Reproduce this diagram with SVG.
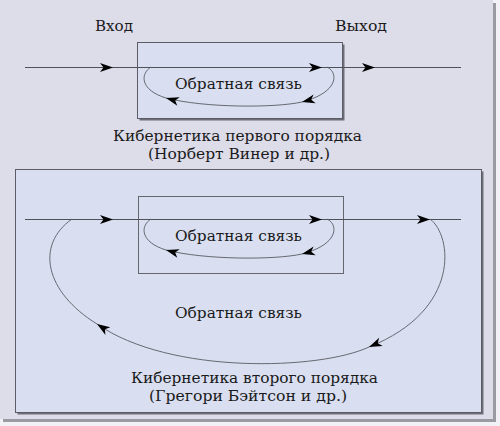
<svg xmlns="http://www.w3.org/2000/svg" width="500" height="426" viewBox="0 0 500 426">
<defs>
<marker id="arr" viewBox="0 0 13 9" refX="13" refY="4.5" markerWidth="13" markerHeight="9" markerUnits="userSpaceOnUse" orient="auto" overflow="visible">
<path d="M0,0 L13,4.5 L0,9 L3.5,4.5 Z" fill="#000"/>
</marker>
</defs>
<style>
.t{font-family:"DejaVu Serif Condensed","DejaVu Serif","Liberation Serif",serif;font-size:15.5px;fill:#1a1a1a;text-anchor:middle}
.ln{stroke:#505058;stroke-width:1;fill:none}
.lp{stroke:#5a5a62;stroke-width:0.9;fill:none}
.box{fill:#d9dff1;stroke:#5c5c66;stroke-width:1}
.sh{fill:#6e6e78}
</style>
<rect x="0" y="0" width="500" height="426" fill="#f2f2f6"/>
<rect x="3" y="3" width="493" height="419" fill="#9a9aa2"/>
<rect x="0" y="0" width="493" height="419" fill="#dddce9"/>

<g id="box1">
<rect class="sh" x="139.5" y="44.5" width="205" height="76"/>
<rect class="box" x="137.5" y="42.5" width="205" height="76"/>
</g>
<g id="box2">
<rect class="sh" x="17.5" y="171.5" width="466" height="243"/>
<rect class="box" x="15.5" y="169.5" width="466" height="243"/>
</g>
<g id="box3">
<rect x="138.5" y="196.5" width="205" height="77" fill="none" stroke="#66666e" stroke-width="1"/>
</g>

<g id="connectors">
<line class="ln" x1="25" y1="67.5" x2="113" y2="67.5" marker-end="url(#arr)"/>
<line class="ln" x1="113" y1="67.5" x2="322" y2="67.5" marker-end="url(#arr)"/>
<line class="ln" x1="322" y1="67.5" x2="375" y2="67.5" marker-end="url(#arr)"/>
<line class="ln" x1="375" y1="67.5" x2="461" y2="67.5"/>
<path class="lp" d="M327,67 C338,72 340,92 302,102 C275,108 205,108 166,98 C140,90 140,74 151,67" marker-mid="url(#arr)"/>

<line class="ln" x1="25" y1="219.5" x2="113" y2="219.5" marker-end="url(#arr)"/>
<line class="ln" x1="113" y1="219.5" x2="322" y2="219.5" marker-end="url(#arr)"/>
<line class="ln" x1="322" y1="219.5" x2="430" y2="219.5" marker-end="url(#arr)"/>
<line class="ln" x1="430" y1="219.5" x2="461" y2="219.5"/>
<path class="lp" d="M327,219 C338,224 340,244 302,254 C275,260 205,260 166,250 C140,242 140,226 151,219" marker-mid="url(#arr)"/>
<path class="lp" d="M430,219 C452,235 462,310 369,347 C320,370 170,375 97,324 C45,292 35,245 72,219" marker-mid="url(#arr)"/>
</g>

<g id="labels">
<text class="t" x="114" y="31" textLength="38" lengthAdjust="spacingAndGlyphs">Вход</text>
<text class="t" x="361" y="31" textLength="52" lengthAdjust="spacingAndGlyphs">Выход</text>
<text class="t" x="238.5" y="89" textLength="127" lengthAdjust="spacingAndGlyphs">Обратная связь</text>
<text class="t" x="237.5" y="140.5" textLength="249" lengthAdjust="spacingAndGlyphs">Кибернетика первого порядка</text>
<text class="t" x="239" y="158.5" textLength="182" lengthAdjust="spacingAndGlyphs">(Норберт Винер и др.)</text>
<text class="t" x="238.5" y="241" textLength="127" lengthAdjust="spacingAndGlyphs">Обратная связь</text>
<text class="t" x="238.5" y="318" textLength="127" lengthAdjust="spacingAndGlyphs">Обратная связь</text>
<text class="t" x="254.5" y="383" textLength="247" lengthAdjust="spacingAndGlyphs">Кибернетика второго порядка</text>
<text class="t" x="248" y="401" textLength="198" lengthAdjust="spacingAndGlyphs">(Грегори Бэйтсон и др.)</text>
</g>
</svg>
